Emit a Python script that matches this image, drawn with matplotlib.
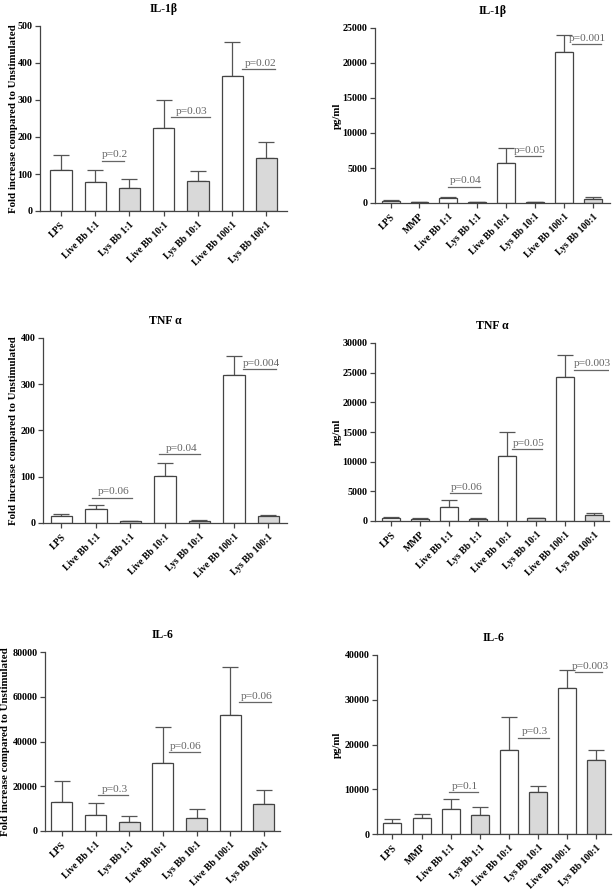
import matplotlib
matplotlib.use("Agg")
import matplotlib.pyplot as plt
import numpy as np

plt.rcParams['font.family'] = ['Liberation Serif', 'DejaVu Serif']

# categories
cats_fold = ['LPS', 'Live Bb 1:1', 'Lys Bb 1:1', 'Live Bb 10:1', 'Lys Bb 10:1',
             'Live Bb 100:1', 'Lys Bb 100:1']
cats_pg = ['LPS', 'MMP', 'Live Bb 1:1', 'Lys Bb 1:1', 'Live Bb 10:1', 'Lys Bb 10:1',
           'Live Bb 100:1', 'Lys Bb 100:1']

# IL-1b fold increase
il1b_fold = [112, 79, 63, 223, 80, 366, 142]
il1b_fold_err = [40, 31, 24, 78, 29, 91, 44]
il1b_fold_p = [(1, 0.2, 0.85, 136, 'p=0.2'), (3, 0.22, 1.34, 253, 'p=0.03'),
               (5, 0.28, 1.26, 383, 'p=0.02')]

# IL-1b pg/ml
il1b_pg = [300, 100, 650, 80, 5700, 150, 21600, 620]
il1b_pg_err = [80, 30, 250, 20, 2100, 50, 2450, 280]
il1b_pg_p = [(2, 0.0, 1.1, 2330, 'p=0.04'), (4, 0.31, 1.2, 6670, 'p=0.05'),
             (6, 0.28, 1.28, 22700, 'p=0.001')]

# TNF a fold increase
tnf_fold = [15, 29.5, 3.6, 101, 3.6, 321, 15]
tnf_fold_err = [4, 9.5, 1.4, 28.5, 2.4, 39, 3]
tnf_fold_p = [(1, -0.1, 1.04, 55, 'p=0.06'), (3, -0.17, 1.03, 149, 'p=0.04'),
              (5, 0.27, 1.23, 332, 'p=0.004')]

# TNF a pg/ml
tnf_pg = [500, 350, 2300, 300, 11000, 450, 24250, 950]
tnf_pg_err = [200, 100, 1200, 150, 4000, 100, 3700, 330]
tnf_pg_p = [(2, 0.03, 1.09, 4680, 'p=0.06'), (4, 0.15, 1.2, 12130, 'p=0.05'),
            (6, 0.29, 1.45, 25490, 'p=0.003')]

# IL-6 fold increase
il6_fold = [12960, 7000, 4170, 30390, 5810, 51690, 12070]
il6_fold_err = [9240, 5510, 2530, 16090, 3870, 21750, 6260]
il6_fold_p = [(1, 0.08, 0.98, 16090, 'p=0.3'), (3, 0.18, 1.1, 35300, 'p=0.06'),
              (5, 0.27, 1.2, 57650, 'p=0.06')]

# IL-6 pg/ml
il6_pg = [2390, 3510, 5600, 4180, 18800, 9330, 32610, 16640]
il6_pg_err = [900, 900, 2240, 1790, 7310, 1340, 3960, 2090]
il6_pg_p = [(2, -0.05, 0.95, 9330, 'p=0.1'), (4, 0.3, 1.37, 21490, 'p=0.3'),
            (6, 0.28, 1.2, 36120, 'p=0.003')]

W, H = 613, 893
fig = plt.figure(figsize=(W / 100, H / 100), dpi=100)

edge = '#444444'
ptxt = '#666666'


def panel(box, cats, vals, errs, pvals, title, ylabel, ymax, ystep, xpad, ylab_x):
    l, r, t, b = box
    ax = fig.add_axes([l / W, 1 - b / H, (r - l) / W, (b - t) / H])
    x = np.arange(len(cats))
    colors = ['#d9d9d9' if c.startswith('Lys') else 'white' for c in cats]
    ax.bar(x, vals, width=0.62, color=colors, edgecolor=edge, linewidth=0.9, zorder=2)
    ax.errorbar(x, vals, yerr=[np.zeros(len(vals)), errs], fmt='none', ecolor='#555555',
                elinewidth=0.9, capsize=5.5, capthick=0.9, zorder=1)
    for i, d0, d1, y, txt in pvals:
        ax.plot([i + d0, i + d1], [y, y], color=ptxt, lw=0.9)
        ax.text(i + (d0 + d1) / 2 + 0.05, y + ymax * 0.008, txt, ha='center', va='bottom',
                fontsize=8.2, color=ptxt)
    ax.set_xlim(xpad[0], len(cats) - 1 + xpad[1])
    ax.set_ylim(0, ymax)
    ax.set_yticks(np.arange(0, ymax + 1, ystep))
    ax.set_xticks(x)
    ax.set_xticklabels(cats, rotation=45, ha='right', rotation_mode='anchor',
                       fontsize=7, fontweight='bold')
    for lab in ax.get_yticklabels():
        lab.set_fontweight('bold')
        lab.set_fontsize(7.2)
    ax.tick_params(axis='both', length=3.5, width=0.9, color=edge, pad=2)
    ax.tick_params(axis='x', pad=3)
    for s in ['top', 'right']:
        ax.spines[s].set_visible(False)
    for s in ['left', 'bottom']:
        ax.spines[s].set_color(edge)
        ax.spines[s].set_linewidth(0.9)
    ax.set_title(title, fontsize=8.5, fontweight='bold', pad=10)
    ax.set_ylabel(ylabel, fontsize=7.8, fontweight='bold')
    # ylabel right edge, in figure pixels
    ax.yaxis.set_label_coords((ylab_x - l) / (r - l), 0.5)
    return ax


fold_lab = 'Fold increase compared to Unstimulated'
panel((40, 287, 26, 211), cats_fold, il1b_fold, il1b_fold_err, il1b_fold_p,
      'IL-1β', fold_lab, 500, 100, (-0.61, 0.6), 18)
panel((375, 610, 28, 203), cats_pg, il1b_pg, il1b_pg_err, il1b_pg_p,
      'IL-1β', 'pg/ml', 25000, 5000, (-0.54, 0.6), 342)
panel((43, 287, 338, 523), cats_fold, tnf_fold, tnf_fold_err, tnf_fold_p,
      'TNF α', fold_lab, 400, 100, (-0.53, 0.54), 18)
panel((375, 609, 343, 521), cats_pg, tnf_pg, tnf_pg_err, tnf_pg_p,
      'TNF α', 'pg/ml', 30000, 5000, (-0.55, 0.5), 342)
panel((45, 280, 652, 831), cats_fold, il6_fold, il6_fold_err, il6_fold_p,
      'IL-6', fold_lab, 80000, 20000, (-0.5, 0.48), 10)
panel((377, 611, 655, 834), cats_pg, il6_pg, il6_pg_err, il6_pg_p,
      'IL-6', 'pg/ml', 40000, 10000, (-0.53, 0.5), 342)

fig.savefig('out.png', dpi=100)
